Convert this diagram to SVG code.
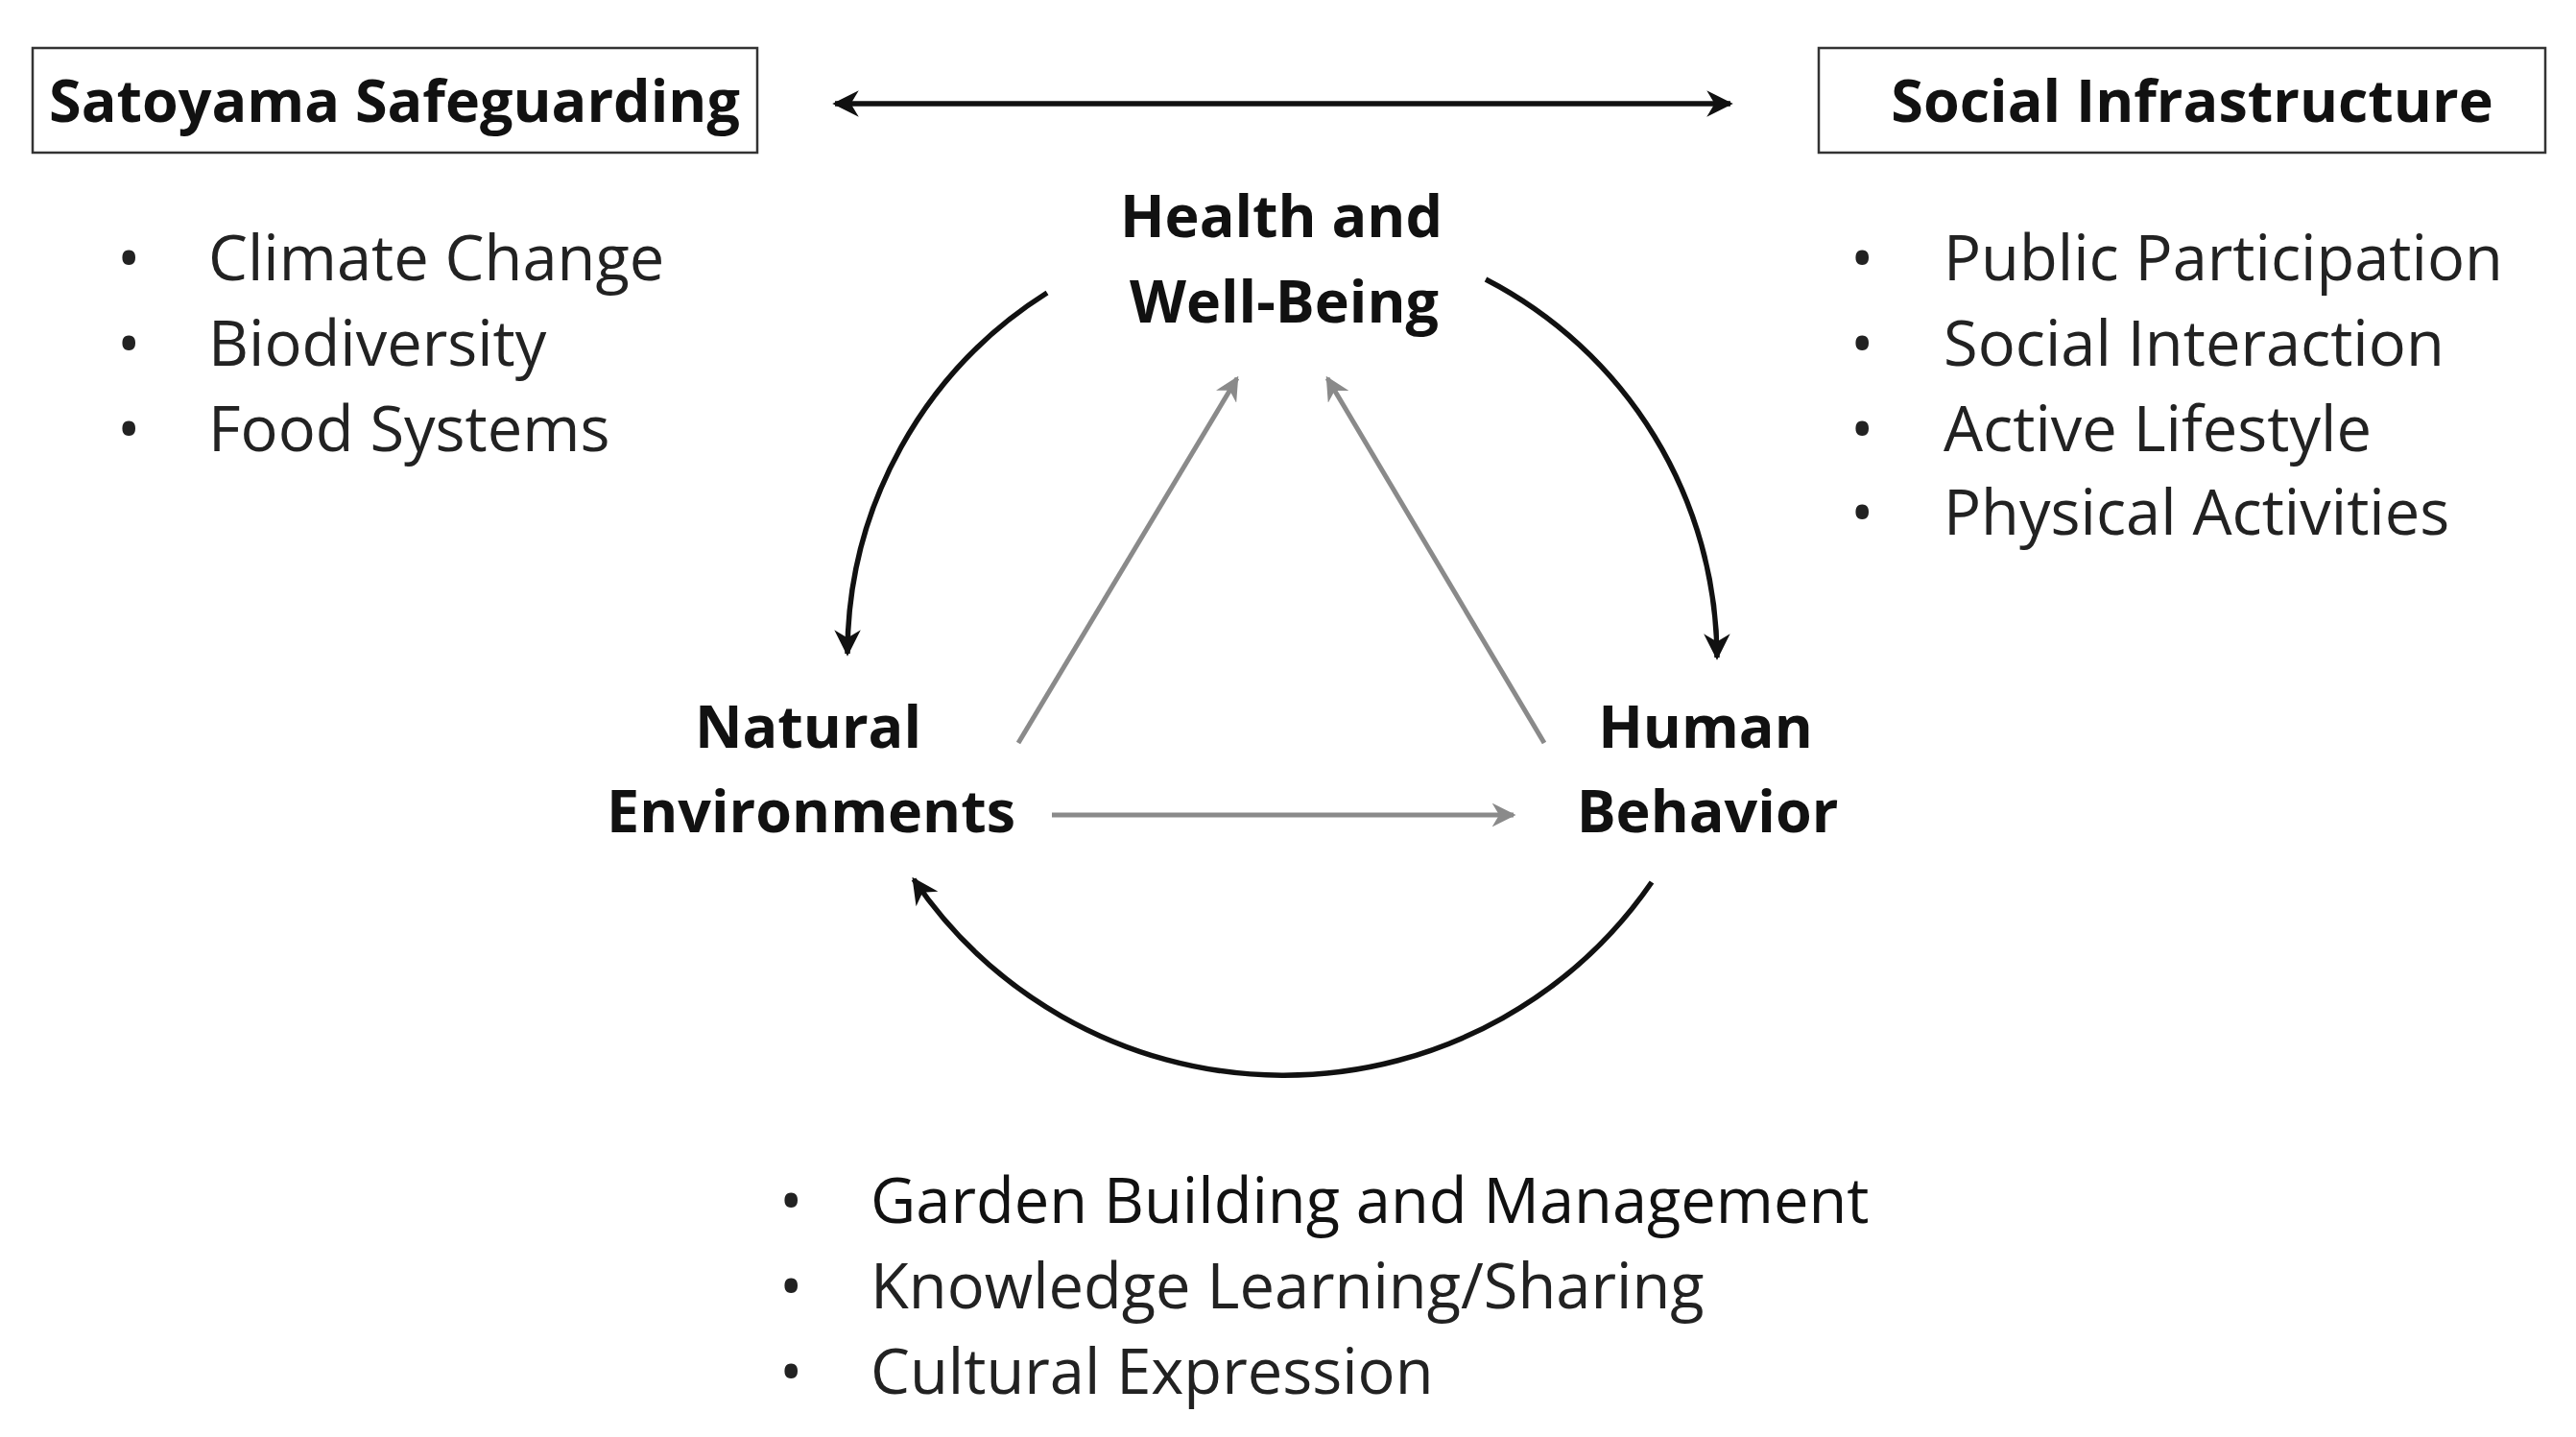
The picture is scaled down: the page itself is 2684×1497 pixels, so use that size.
<svg xmlns="http://www.w3.org/2000/svg" width="2684" height="1497" viewBox="0 0 2684 1497">
<style>
.t{font-family:"Open Sans","Noto Sans",sans-serif;font-size:65px;fill:#222}
.b{font-family:"Open Sans","Noto Sans",sans-serif;font-size:61px;font-weight:bold;fill:#111;text-anchor:middle}
.k{fill:none;stroke:#111;stroke-width:5.5}
.g{fill:none;stroke:#8a8a8a;stroke-width:5}
</style>
<defs>
<marker id="ak" viewBox="0 0 10 10" refX="9" refY="5" markerWidth="5" markerHeight="5" orient="auto-start-reverse"><path d="M0,0 L10,5 L0,10 L3,5 z" fill="#111"/></marker>
<marker id="ag" viewBox="0 0 10 10" refX="9" refY="5" markerWidth="5" markerHeight="5" orient="auto"><path d="M0,0 L10,5 L0,10 L3,5 z" fill="#8a8a8a"/></marker>
</defs>
<rect width="2684" height="1497" fill="#fff"/>
<g id="satoyama"><rect x="34" y="50" width="755" height="109" fill="#fff" stroke="#333" stroke-width="2.5"/><text class="b" x="411" y="127">Satoyama Safeguarding</text></g>
<g id="social"><rect x="1895" y="50" width="757" height="109" fill="#fff" stroke="#333" stroke-width="2.5"/><text class="b" x="2284" y="127">Social Infrastructure</text></g>
<g id="left-list" class="t"><text x="122" y="292">•</text><text x="217" y="292">Climate Change</text><text x="122" y="381">•</text><text x="217" y="381">Biodiversity</text><text x="122" y="470">•</text><text x="217" y="470">Food Systems</text></g>
<g id="right-list" class="t"><text x="1928" y="292">•</text><text x="2025" y="292">Public Participation</text><text x="1928" y="381">•</text><text x="2025" y="381">Social Interaction</text><text x="1928" y="470">•</text><text x="2025" y="470">Active Lifestyle</text><text x="1928" y="557">•</text><text x="2025" y="557">Physical Activities</text></g>
<g id="health"><text class="b" x="1335" y="247">Health and</text><text class="b" x="1338" y="336">Well-Being</text></g>
<g id="natural"><text class="b" x="842" y="779">Natural</text><text class="b" x="845" y="867">Environments</text></g>
<g id="human"><text class="b" x="1777" y="779">Human</text><text class="b" x="1779" y="867">Behavior</text></g>
<g id="bottom-list" class="t"><text x="812" y="1274">•</text><text x="907" y="1274" fill="#111">Garden Building and Management</text><text x="812" y="1363">•</text><text x="907" y="1363">Knowledge Learning/Sharing</text><text x="812" y="1452">•</text><text x="907" y="1452">Cultural Expression</text></g>
<g id="connectors">
<path class="k" d="M870,108 L1803,108" marker-start="url(#ak)" marker-end="url(#ak)"/>
<path class="k" d="M1091,305 A445,445 0 0 0 883,681" marker-end="url(#ak)"/>
<path class="k" d="M1548,291 A445,445 0 0 1 1789,685" marker-end="url(#ak)"/>
<path class="k" d="M1721,919 A466,466 0 0 1 952,916" marker-end="url(#ak)"/>
<path class="g" d="M1061,774 L1289,394" marker-end="url(#ag)"/>
<path class="g" d="M1609,774 L1383,394" marker-end="url(#ag)"/>
<path class="g" d="M1096,849 L1577,849" marker-end="url(#ag)"/>
</g>
</svg>
